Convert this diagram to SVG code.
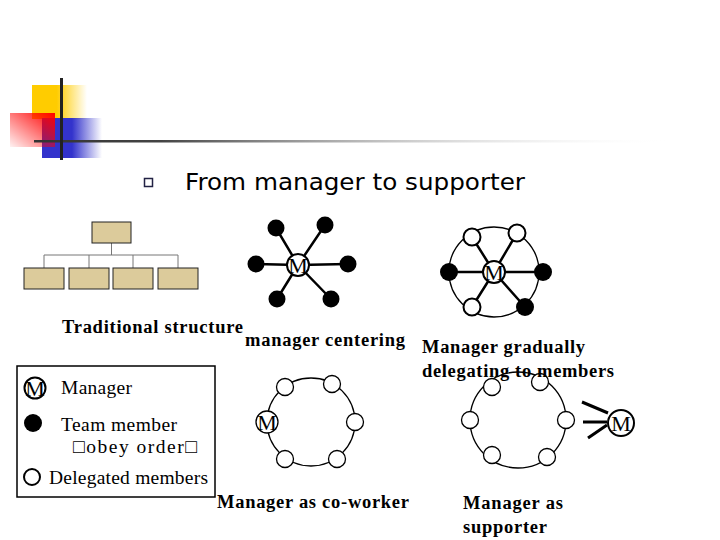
<svg xmlns="http://www.w3.org/2000/svg" width="720" height="540" viewBox="0 0 720 540">
<defs>
<linearGradient id="gY" x1="0" y1="0" x2="1" y2="0"><stop offset="0" stop-color="#ffcc00"/><stop offset="0.45" stop-color="#ffcc00"/><stop offset="1" stop-color="#ffcc00" stop-opacity="0"/></linearGradient>
<linearGradient id="gB" x1="0" y1="0" x2="1" y2="0"><stop offset="0" stop-color="#3333cc"/><stop offset="0.5" stop-color="#3333cc"/><stop offset="1" stop-color="#3333cc" stop-opacity="0"/></linearGradient>
<linearGradient id="gR" x1="1" y1="0" x2="0" y2="1"><stop offset="0" stop-color="#ff0000"/><stop offset="1" stop-color="#ff0000" stop-opacity="0.05"/></linearGradient>
<linearGradient id="gL" x1="0" y1="0" x2="1" y2="0"><stop offset="0" stop-color="#333333"/><stop offset="0.2" stop-color="#444444"/><stop offset="1" stop-color="#ffffff" stop-opacity="0"/></linearGradient>
<style>
.serif{font-family:"Liberation Serif","Times New Roman",serif;fill:#000}
.lbl{font-weight:bold;font-size:18.5px}
.leg{font-size:19.5px}
.box{fill:#dccb9b;stroke:#222;stroke-width:1}
.ln{stroke:#000;stroke-width:2.5;fill:none}
.ring{stroke:#000;stroke-width:1.3;fill:none}
.blk{fill:#000}
.wht{fill:#fff;stroke:#000;stroke-width:2}
.wht1{fill:#fff;stroke:#000;stroke-width:1.3}
.mc{fill:#fff;stroke:#000;stroke-width:2}
.mt{font-family:"Liberation Serif","Times New Roman",serif;font-size:22px;text-anchor:middle;fill:#000}
</style>
</defs>
<rect width="720" height="540" fill="#fff"/>
<g id="decor">
<rect x="32" y="85" width="55" height="34" fill="url(#gY)"/>
<rect x="42" y="118" width="60" height="40" fill="url(#gB)"/>
<rect x="10" y="113" width="45" height="34" fill="url(#gR)"/>
<rect x="34" y="140" width="640" height="2.5" fill="url(#gL)"/>
<rect x="60" y="78" width="3" height="82" fill="#222"/>
</g>
<g id="title">
<rect x="144.5" y="178.5" width="8" height="8" fill="none" stroke="#222244" stroke-width="1.5"/>
<text x="185" y="190" font-family="'DejaVu Sans',Verdana,sans-serif" font-size="23" fill="#000" textLength="340" lengthAdjust="spacingAndGlyphs">From manager to supporter</text>
</g>
<g id="orgchart">
<path d="M111.5 243 V255 M44 255 H178 M44 255 V268 M89 255 V268 M133 255 V268 M178 255 V268" stroke="#777" stroke-width="1" fill="none"/>
<rect class="box" x="92" y="222" width="39" height="21"/>
<rect class="box" x="24" y="268" width="40" height="21"/>
<rect class="box" x="69" y="268" width="40" height="21"/>
<rect class="box" x="113" y="268" width="40" height="21"/>
<rect class="box" x="158" y="268" width="40" height="21"/>
</g>
<g id="connectors">
<path class="ln" d="M298 265 L276 228 M298 265 L325 225 M298 265 L256 264 M298 265 L348 264 M298 265 L277 299 M298 265 L331 299"/>
<circle class="ring" cx="494" cy="272" r="45" stroke-width="2"/>
<path class="ln" d="M494 272 L472 237 M494 272 L517 233 M494 272 L449 272 M494 272 L543 272 M494 272 L472 307 M494 272 L525 307"/>
<circle class="ring" cx="311" cy="422" r="44"/>
<circle class="ring" cx="518" cy="420" r="48"/>
<path d="M582 402 L608 413 M583 422 L607 422 M588 438 L607 425" stroke="#000" stroke-width="3" fill="none"/>
</g>
<g id="star">
<circle class="blk" cx="276" cy="228" r="8.5"/>
<circle class="blk" cx="325" cy="225" r="8.5"/>
<circle class="blk" cx="256" cy="264" r="8.5"/>
<circle class="blk" cx="348" cy="264" r="8.5"/>
<circle class="blk" cx="277" cy="299" r="8.5"/>
<circle class="blk" cx="331" cy="299" r="8.5"/>
<circle class="mc" cx="298" cy="265" r="11"/>
<text class="mt" x="298" y="273">M</text>
</g>
<g id="hexring">
<circle class="wht" cx="472" cy="237" r="8.5"/>
<circle class="wht" cx="517" cy="233" r="8.5"/>
<circle class="blk" cx="449" cy="272" r="9"/>
<circle class="blk" cx="543" cy="272" r="9"/>
<circle class="wht" cx="472" cy="307" r="8.5"/>
<circle class="blk" cx="525" cy="307" r="9"/>
<circle class="mc" cx="494" cy="272" r="11"/>
<text class="mt" x="494" y="280">M</text>
</g>
<g id="coworker">
<circle class="wht1" cx="285" cy="387" r="8.5"/>
<circle class="wht1" cx="332" cy="384" r="8.5"/>
<circle class="wht1" cx="355" cy="422" r="8.5"/>
<circle class="wht1" cx="337" cy="459" r="8.5"/>
<circle class="wht1" cx="285" cy="459" r="8.5"/>
<circle class="wht1" cx="267" cy="422" r="11"/>
<text class="mt" x="267" y="430">M</text>
</g>
<g id="supporter">
<circle class="wht1" cx="492" cy="387" r="8.5"/>
<circle class="wht1" cx="540" cy="382" r="8.5"/>
<circle class="wht1" cx="566" cy="420" r="8.5"/>
<circle class="wht1" cx="547" cy="457" r="8.5"/>
<circle class="wht1" cx="492" cy="455" r="8.5"/>
<circle class="wht1" cx="470" cy="420" r="8.5"/>
<circle class="mc" cx="621" cy="423" r="13"/>
<text class="mt" x="621" y="431" font-size="24">M</text>
</g>
<g id="legend">
<rect x="17" y="366" width="198" height="131" fill="none" stroke="#000" stroke-width="1.5"/>
<circle class="mc" cx="35" cy="388" r="10.5"/>
<text class="mt" x="35" y="396">M</text>
<text class="serif leg" x="61" y="394" textLength="71">Manager</text>
<circle class="blk" cx="33" cy="423" r="9"/>
<text class="serif leg" x="61" y="431" textLength="116">Team member</text>
<text class="serif leg" x="73" y="453" textLength="124">□obey order□</text>
<circle class="wht" cx="32" cy="477" r="8"/>
<text class="serif leg" x="49" y="484" textLength="159">Delegated members</text>
</g>
<g id="labels">
<text class="serif lbl" x="62" y="333" textLength="181">Traditional structure</text>
<text class="serif lbl" x="245" y="346" textLength="160">manager centering</text>
<text class="serif lbl" x="422" y="353" textLength="163">Manager gradually</text>
<text class="serif lbl" x="422" y="377" textLength="192">delegating to members</text>
<text class="serif lbl" x="217" y="508" textLength="192">Manager as co-worker</text>
<text class="serif lbl" x="463" y="509" textLength="100">Manager as</text>
<text class="serif lbl" x="463" y="533" textLength="84">supporter</text>
</g>
</svg>
